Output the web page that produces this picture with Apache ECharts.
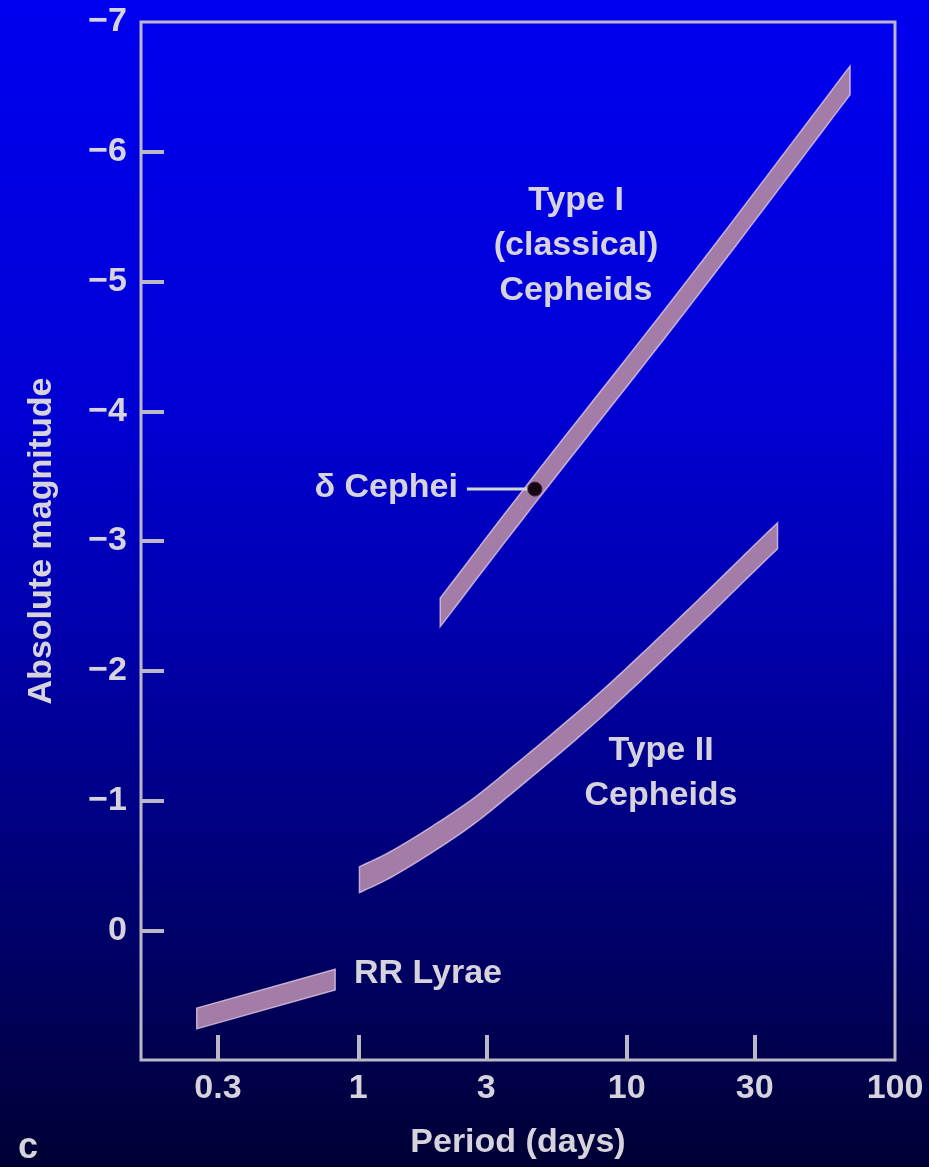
<!DOCTYPE html>
<html>
<head>
<meta charset="utf-8">
<script src="https://cdn.jsdelivr.net/npm/echarts@6/dist/echarts.min.js"></script>
<style>
  html, body { margin: 0; padding: 0; background: #000033; }
  #chart { width: 929px; height: 1167px; }
</style>
</head>
<body>
<div id="chart"></div>
<script>
// Period–luminosity relations of pulsating variable stars

// Type I (classical) Cepheids: period (days) and absolute magnitude along the band
const typeIPeriod = [2.02, 4.55, 17.3, 68];
const typeIMag = [-2.45, -3.40, -4.93, -6.55];

// Type II Cepheids
const typeIIPeriod = [1.01, 1.41, 2.5, 3.86, 6.9, 10.6, 19, 29.3, 36.5];
const typeIIMag = [-0.39, -0.54, -0.87, -1.18, -1.62, -1.97, -2.47, -2.85, -3.04];

// RR Lyrae stars
const rrLyraePeriod = [0.25, 0.82];
const rrLyraeMag = [0.68, 0.38];

// Half-width of each band, in magnitudes
const typeISpread = 0.11;
const typeIISpread = 0.10;
const rrLyraeSpread = 0.08;

// Delta Cephei itself: [period, magnitude]
const deltaCephei = [4.55, -3.40];

// Axis ticks
const periodTicks = [0.3, 1, 3, 10, 30, 100];
const magnitudeTicks = [-7, -6, -5, -4, -3, -2, -1, 0];

const TEXT = '#d6d3dc';
const FRAME = '#bcb7c4';
const FONT = '"Liberation Sans", Arial, Helvetica, sans-serif';
const BAND_FILL = '#a37ca7';
const BAND_EDGE = 'rgba(232, 208, 232, 0.75)';

function pairs(xs, ys) {
  return xs.map((x, i) => [x, ys[i]]);
}

// Smooth pixel path through screen points (Catmull-Rom drawn as cubic Béziers,
// each segment traced with a few vertices).
function smoothTrace(pts) {
  if (pts.length < 3) return pts.slice();
  const out = [pts[0]];
  const n = pts.length;
  const STEPS = 12;
  for (let i = 0; i < n - 1; i++) {
    const p0 = pts[Math.max(i - 1, 0)];
    const p1 = pts[i];
    const p2 = pts[i + 1];
    const p3 = pts[Math.min(i + 2, n - 1)];
    const c1 = [p1[0] + (p2[0] - p0[0]) / 6, p1[1] + (p2[1] - p0[1]) / 6];
    const c2 = [p2[0] - (p3[0] - p1[0]) / 6, p2[1] - (p3[1] - p1[1]) / 6];
    for (let s = 1; s <= STEPS; s++) {
      const t = s / STEPS, u = 1 - t;
      out.push([
        u * u * u * p1[0] + 3 * u * u * t * c1[0] + 3 * u * t * t * c2[0] + t * t * t * p2[0],
        u * u * u * p1[1] + 3 * u * u * t * c1[1] + 3 * u * t * t * c2[1] + t * t * t * p2[1]
      ]);
    }
  }
  return out;
}

// Draws a band as one polygon: bright edge forward, faint edge backward,
// so both ends are cut vertically.
function bandSeries(name, periods, mags, spread) {
  return {
    name: name,
    type: 'custom',
    coordinateSystem: 'cartesian2d',
    data: pairs(periods, mags),
    encode: { x: 0, y: 1 },
    silent: true,
    z: 2,
    renderItem: function (params, api) {
      if (params.dataIndex !== 0) return null;
      const upper = periods.map((p, i) => api.coord([p, mags[i] - spread]));
      const lower = periods.map((p, i) => api.coord([p, mags[i] + spread]));
      const pts = smoothTrace(upper).concat(smoothTrace(lower).reverse());
      return {
        type: 'polygon',
        shape: { points: pts },
        style: { fill: BAND_FILL, stroke: BAND_EDGE, lineWidth: 1.5 }
      };
    }
  };
}

const chart = echarts.init(document.getElementById('chart'), null, { renderer: 'canvas' });

const labelText = { color: TEXT, fontSize: 34, fontWeight: 'bold', fontFamily: FONT };
const annotText = { fill: TEXT, fontSize: 34, fontWeight: 'bold', fontFamily: FONT };

chart.setOption({
  animation: false,
  backgroundColor: new echarts.graphic.LinearGradient(0, 0, 0, 1, [
    { offset: 0, color: 'rgb(0, 0, 240)' },
    { offset: 0.35, color: 'rgb(0, 0, 212)' },
    { offset: 0.55, color: 'rgb(0, 0, 170)' },
    { offset: 0.82, color: 'rgb(0, 0, 100)' },
    { offset: 1, color: 'rgb(0, 0, 52)' }
  ]),
  grid: {
    left: 141, right: 34, top: 22, bottom: 107,
    show: true,
    borderColor: FRAME,
    borderWidth: 3,
    backgroundColor: 'transparent'
  },
  xAxis: {
    type: 'log',
    logBase: 10,
    min: 0.155,
    max: 100,
    name: 'Period (days)',
    nameLocation: 'middle',
    nameGap: 66,
    nameTextStyle: labelText,
    axisLine: { show: false, onZero: false },
    splitLine: { show: false },
    minorTick: { show: false },
    axisTick: {
      show: true,
      inside: true,
      length: 25,
      customValues: periodTicks.slice(0, periodTicks.length - 1),
      lineStyle: { color: FRAME, width: 4 }
    },
    axisLabel: Object.assign({
      show: true,
      customValues: periodTicks,
      margin: 12,
      formatter: function (v) { return String(v); }
    }, labelText)
  },
  yAxis: {
    type: 'value',
    inverse: true,
    min: -7,
    max: 1,
    name: 'Absolute magnitude',
    nameLocation: 'middle',
    nameRotate: 90,
    nameGap: 82,
    nameTextStyle: labelText,
    axisLine: { show: false, onZero: false },
    splitLine: { show: false },
    axisTick: {
      show: true,
      inside: true,
      length: 23,
      customValues: magnitudeTicks.slice(1),
      lineStyle: { color: FRAME, width: 4 }
    },
    axisLabel: Object.assign({
      show: true,
      customValues: magnitudeTicks,
      margin: 14,
      formatter: function (v) { return String(v).replace('-', '\u2212'); }
    }, labelText)
  },
  graphic: [
    {
      type: 'text', x: 576, y: 246, silent: true,
      style: Object.assign({
        text: 'Type I\n(classical)\nCepheids',
        align: 'center', verticalAlign: 'middle', lineHeight: 45
      }, annotText)
    },
    {
      type: 'text', x: 661, y: 773, silent: true,
      style: Object.assign({
        text: 'Type II\nCepheids',
        align: 'center', verticalAlign: 'middle', lineHeight: 45
      }, annotText)
    },
    {
      type: 'text', x: 354, y: 974, silent: true,
      style: Object.assign({
        text: 'RR Lyrae',
        align: 'left', verticalAlign: 'middle'
      }, annotText)
    },
    {
      type: 'text', x: 18, y: 1148, silent: true,
      style: Object.assign({
        text: 'c',
        align: 'left', verticalAlign: 'middle'
      }, annotText, { fontSize: 36 })
    }
  ],
  series: [
    bandSeries('Type I Cepheids', typeIPeriod, typeIMag, typeISpread),
    bandSeries('Type II Cepheids', typeIIPeriod, typeIIMag, typeIISpread),
    bandSeries('RR Lyrae', rrLyraePeriod, rrLyraeMag, rrLyraeSpread),
    {
      name: 'δ Cephei',
      type: 'custom',
      coordinateSystem: 'cartesian2d',
      data: [deltaCephei],
      encode: { x: 0, y: 1 },
      silent: true,
      z: 5,
      renderItem: function (params, api) {
        const p = api.coord([api.value(0), api.value(1)]);
        return {
          type: 'group',
          children: [
            {
              type: 'line',
              shape: { x1: p[0] - 68, y1: p[1], x2: p[0] - 6, y2: p[1] },
              style: { stroke: '#cfd8d4', lineWidth: 3 }
            },
            {
              type: 'circle',
              shape: { cx: p[0], cy: p[1], r: 7 },
              style: { fill: '#150812', stroke: '#3a2035', lineWidth: 1 }
            },
            {
              type: 'text',
              style: Object.assign({
                text: 'δ Cephei',
                x: p[0] - 77, y: p[1] - 1,
                align: 'right', verticalAlign: 'middle'
              }, annotText)
            }
          ]
        };
      }
    }
  ]
});
</script>
</body>
</html>
